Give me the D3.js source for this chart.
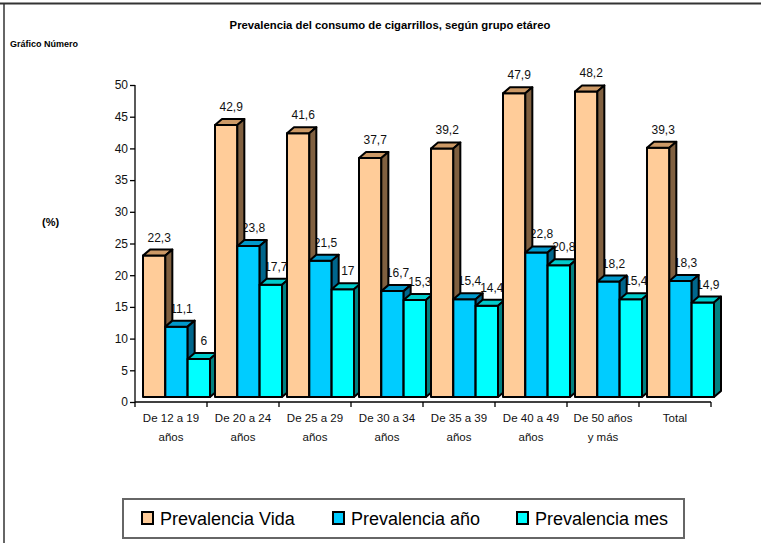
<!DOCTYPE html>
<html>
<head>
<meta charset="utf-8">
<script src="https://cdn.jsdelivr.net/npm/d3@7"></script>
<style>
html,body{margin:0;padding:0;background:#fff;}
svg{display:block;font-family:"Liberation Sans",Arial,sans-serif;}
</style>
</head>
<body>
<svg id="chart" width="761" height="543"></svg>
<script>
const categories = [["De 12 a 19","años"],["De 20 a 24","años"],["De 25 a 29","años"],["De 30 a 34","años"],["De 35 a 39","años"],["De 40 a 49","años"],["De 50 años","y más"],["Total"]];
const seriesNames = ["Prevalencia Vida","Prevalencia año","Prevalencia mes"];
const vida = [22.3, 42.9, 41.6, 37.7, 39.2, 47.9, 48.2, 39.3];
const anio = [11.1, 23.8, 21.5, 16.7, 15.4, 22.8, 18.2, 18.3];
const mes  = [6, 17.7, 17, 15.3, 14.4, 20.8, 15.4, 14.9];
const yTicks = [0,5,10,15,20,25,30,35,40,45,50];

const colors = [
  {front:"#FFCC99", top:"#CC9966", side:"#806040"},
  {front:"#00CCFF", top:"#0099CC", side:"#00668C"},
  {front:"#00FFFF", top:"#00CCCC", side:"#008080"}
];
const seriesData = [vida, anio, mes];

const svg = d3.select("#chart");
const catKeys = categories.map((c,i)=>"c"+i);
const x0 = d3.scaleBand().domain(catKeys).range([135, 711]).padding(0);
const x1 = d3.scaleBand().domain(seriesNames).range([8, 75]).padding(0);
const y = d3.scaleLinear().domain([0,50]).range([402, 85]);
const dx = 7, dy = -6, lift = 5;
const base = y(0) - lift;
const fmt = v => String(v).replace(".", ",");

// frame
svg.append("line").attr("x1",0).attr("x2",761).attr("y1",3.5).attr("y2",3.5).attr("stroke","#333").attr("stroke-width",2);
svg.append("line").attr("x1",4).attr("x2",4).attr("y1",3).attr("y2",543).attr("stroke","#333").attr("stroke-width",1.5);

// title texts
svg.append("text").attr("x",390).attr("y",29).attr("text-anchor","middle").attr("font-size","11.3px").attr("font-weight","bold").text("Prevalencia del consumo de cigarrillos, según grupo etáreo");
svg.append("text").attr("x",10).attr("y",47).attr("font-size","9px").attr("font-weight","bold").text("Gráfico Número");
svg.append("text").attr("x",42).attr("y",226).attr("font-size","11px").attr("font-weight","bold").text("(%)");

// y axis
const yAxis = d3.axisLeft(y).tickValues(yTicks).tickSize(5).tickPadding(2).tickFormat(d3.format("d"));
const gy = svg.append("g").attr("transform","translate(135,0)").call(yAxis);
gy.select(".domain").attr("d","M0,85V402").attr("stroke","#000").attr("stroke-width",1.3);
gy.selectAll(".tick line").attr("stroke","#000").attr("stroke-width",1.3);
gy.selectAll(".tick text").attr("font-size","12px").attr("font-family","Liberation Sans, Arial, sans-serif").attr("fill","#111");

// x axis
const gx = svg.append("g");
gx.append("line").attr("x1",135).attr("x2",711).attr("y1",402).attr("y2",402).attr("stroke","#000").attr("stroke-width",1.3);
const bounds = catKeys.map(k=>x0(k)).concat([x0.range()[1]]);
gx.selectAll("line.tk").data(bounds).enter().append("line").attr("class","tk")
  .attr("x1",d=>d).attr("x2",d=>d).attr("y1",402).attr("y2",407).attr("stroke","#000").attr("stroke-width",1.3);
categories.forEach((lines,i)=>{
  const cx = x0(catKeys[i]) + x0.bandwidth()/2;
  const t = gx.append("text").attr("text-anchor","middle").attr("font-size","11.5px").attr("fill","#111");
  lines.forEach((ln,j)=>{
    t.append("tspan").attr("x",cx).attr("y",422 + j*19).text(ln);
  });
});

// labels (drawn beneath bars)
const gl = svg.append("g");
seriesData.forEach((arr,s)=>{
  arr.forEach((v,i)=>{
    const bx = x0(catKeys[i]) + x1(seriesNames[s]);
    gl.append("text").attr("x", bx + x1.bandwidth()/2 + 5).attr("y", y(v) - lift - 14)
      .attr("text-anchor","middle").attr("font-size","12px").attr("fill","#111").text(fmt(v));
  });
});

// bars
const gb = svg.append("g").attr("stroke","#000").attr("stroke-width",2).attr("stroke-linejoin","round");
categories.forEach((c,i)=>{
  seriesData.forEach((arr,s)=>{
    const v = arr[i];
    const bx = x0(catKeys[i]) + x1(seriesNames[s]);
    const w = x1.bandwidth();
    const top = y(v) - lift;
    const col = colors[s];
    gb.append("rect").attr("x",bx).attr("y",top).attr("width",w).attr("height",base-top).attr("fill",col.front);
    gb.append("path").attr("fill",col.top)
      .attr("d",`M${bx},${top}L${bx+dx},${top+dy}L${bx+w+dx},${top+dy}L${bx+w},${top}Z`);
    gb.append("path").attr("fill",col.side)
      .attr("d",`M${bx+w},${top}L${bx+w+dx},${top+dy}L${bx+w+dx},${base+dy}L${bx+w},${base}Z`);
  });
});

// legend
const lg = svg.append("g");
lg.append("rect").attr("x",123).attr("y",499).attr("width",561).attr("height",39).attr("fill","#fff").attr("stroke","#666").attr("stroke-width",2);
const legX = [142, 333, 517];
seriesNames.forEach((n,s)=>{
  lg.append("rect").attr("x",legX[s]).attr("y",512).attr("width",11).attr("height",12)
    .attr("fill",colors[s].front).attr("stroke","#000").attr("stroke-width",2);
  lg.append("text").attr("x",legX[s]+18).attr("y",525).attr("font-size","18px").attr("fill","#000").text(n);
});
</script>
</body>
</html>
